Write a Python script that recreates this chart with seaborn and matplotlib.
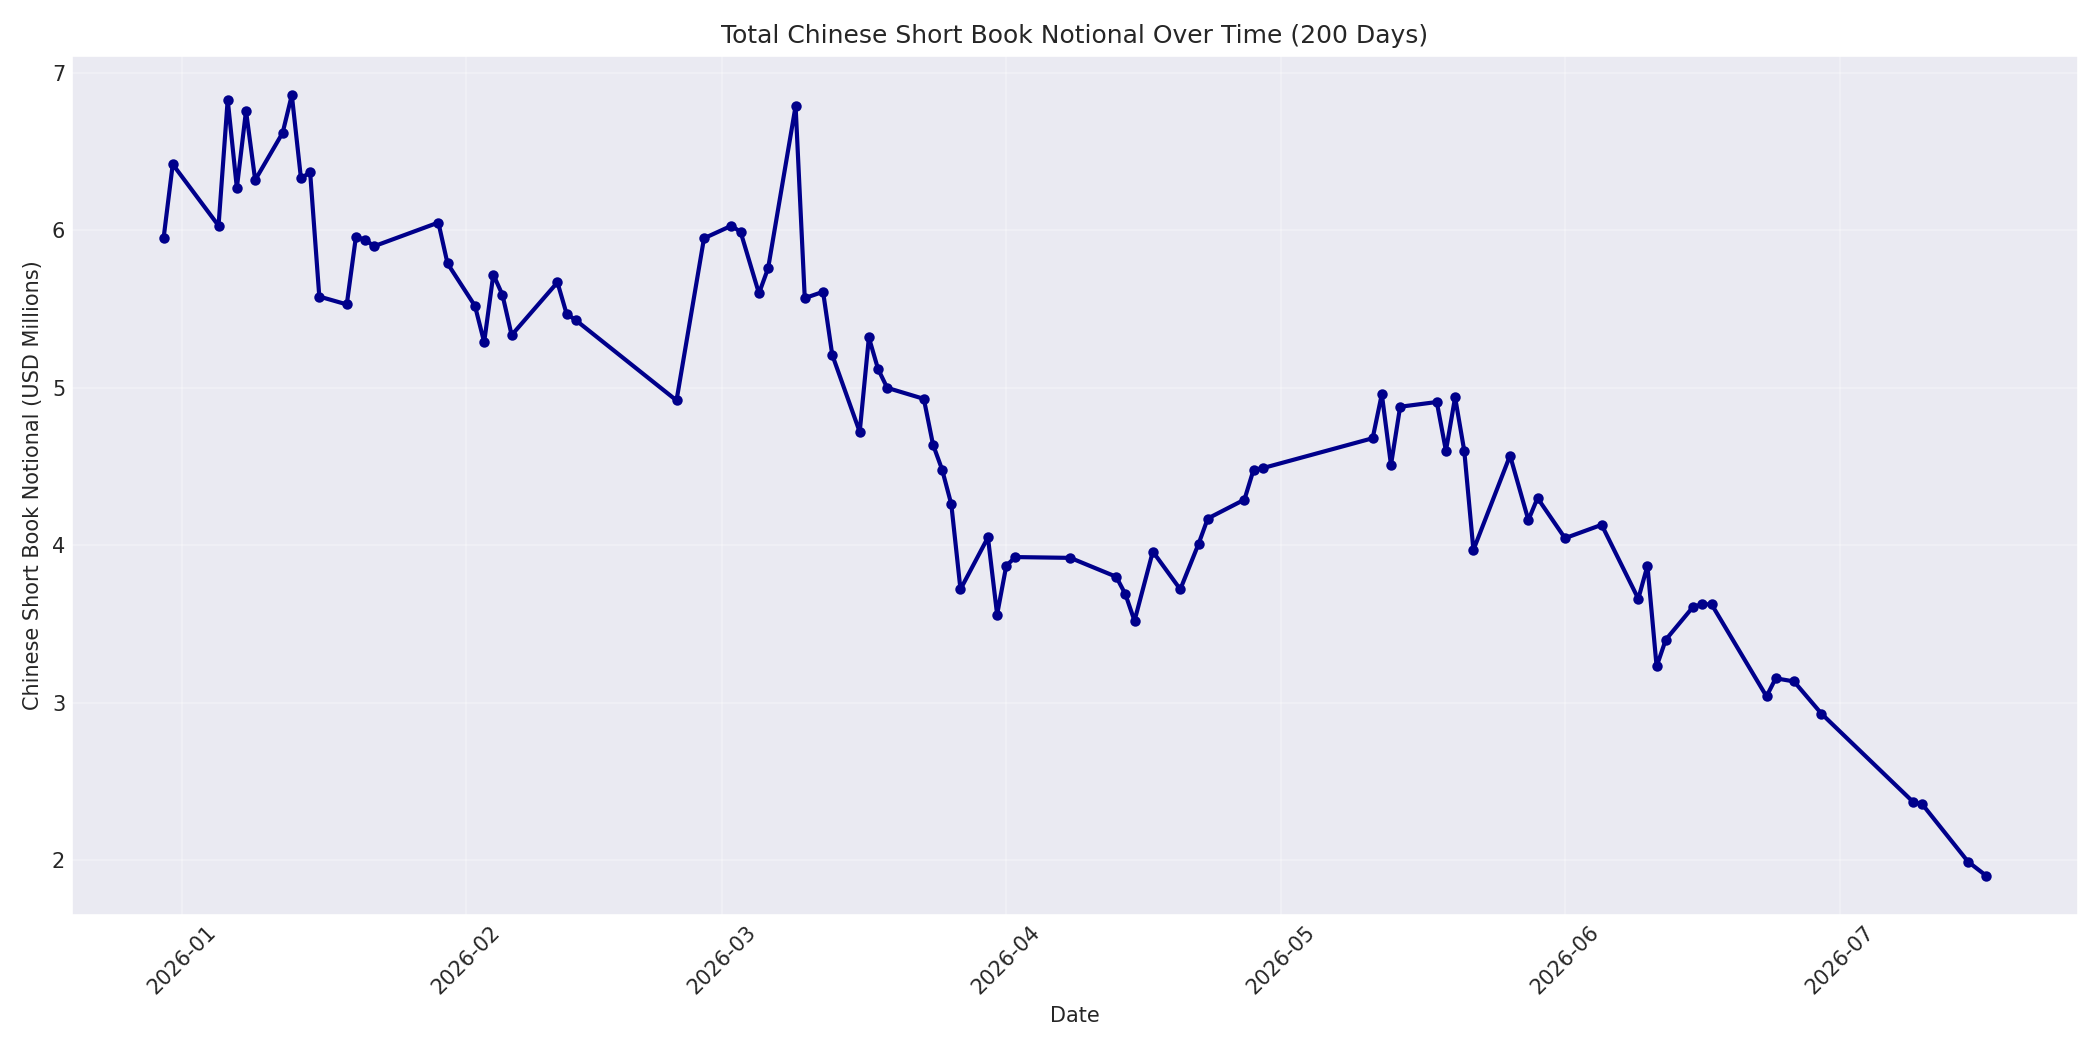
import pandas as pd
import seaborn as sns
from matplotlib import pyplot as plt

# Daily snapshots of the short book
dates = [
    "2025-12-30", "2025-12-31", "2026-01-05", "2026-01-06", "2026-01-07",
    "2026-01-08", "2026-01-09", "2026-01-12", "2026-01-13", "2026-01-14",
    "2026-01-15", "2026-01-16", "2026-01-19", "2026-01-20", "2026-01-21",
    "2026-01-22", "2026-01-29", "2026-01-30", "2026-02-02", "2026-02-03",
    "2026-02-04", "2026-02-05", "2026-02-06", "2026-02-11", "2026-02-12",
    "2026-02-13", "2026-02-24", "2026-02-27", "2026-03-02", "2026-03-03",
    "2026-03-05", "2026-03-06", "2026-03-09", "2026-03-10", "2026-03-12",
    "2026-03-13", "2026-03-16", "2026-03-17", "2026-03-18", "2026-03-19",
    "2026-03-23", "2026-03-24", "2026-03-25", "2026-03-26", "2026-03-27",
    "2026-03-30", "2026-03-31", "2026-04-01", "2026-04-02", "2026-04-08",
    "2026-04-13", "2026-04-14", "2026-04-15", "2026-04-17", "2026-04-20",
    "2026-04-22", "2026-04-23", "2026-04-27", "2026-04-28", "2026-04-29",
    "2026-05-11", "2026-05-12", "2026-05-13", "2026-05-14", "2026-05-18",
    "2026-05-19", "2026-05-20", "2026-05-21", "2026-05-22", "2026-05-26",
    "2026-05-28", "2026-05-29", "2026-06-01", "2026-06-05", "2026-06-09",
    "2026-06-10", "2026-06-11", "2026-06-12", "2026-06-15", "2026-06-16",
    "2026-06-17", "2026-06-23", "2026-06-24", "2026-06-26", "2026-06-29",
    "2026-07-09", "2026-07-10", "2026-07-15", "2026-07-17",
]
notional_musd = [
    5.95, 6.42, 6.03, 6.83, 6.27,
    6.76, 6.32, 6.62, 6.86, 6.33,
    6.37, 5.58, 5.53, 5.96, 5.94,
    5.90, 6.05, 5.79, 5.52, 5.29,
    5.72, 5.59, 5.335, 5.67, 5.47,
    5.43, 4.92, 5.95, 6.03, 5.99,
    5.60, 5.76, 6.79, 5.57, 5.61,
    5.21, 4.72, 5.32, 5.12, 5.00,
    4.93, 4.64, 4.48, 4.26, 3.72,
    4.05, 3.56, 3.87, 3.925, 3.92,
    3.80, 3.69, 3.52, 3.96, 3.72,
    4.01, 4.17, 4.29, 4.48, 4.49,
    4.68, 4.96, 4.51, 4.88, 4.91,
    4.60, 4.94, 4.60, 3.97, 4.57,
    4.16, 4.30, 4.045, 4.13, 3.66,
    3.87, 3.23, 3.40, 3.61, 3.625,
    3.625, 3.04, 3.155, 3.135, 2.93,
    2.37, 2.355, 1.99, 1.90,
]

df = pd.DataFrame({"date": pd.to_datetime(dates), "notional": notional_musd})

# darkgrid look, matplotlib default font sizes, zero-length ticks
sns.set_style("darkgrid")
plt.rcParams.update({"xtick.major.size": 0, "ytick.major.size": 0,
                     "xtick.minor.size": 0, "ytick.minor.size": 0})
fig, ax = plt.subplots(figsize=(14, 7))

sns.lineplot(data=df, x="date", y="notional", ax=ax, color="darkblue",
             marker="o", linewidth=2, markersize=4,
             markeredgecolor="darkblue", markeredgewidth=1)

ax.set_title("Total Chinese Short Book Notional Over Time (200 Days)")
ax.set_xlabel("Date")
ax.set_ylabel("Chinese Short Book Notional (USD Millions)")
ax.grid(True, alpha=0.3)
plt.xticks(rotation=45)

plt.tight_layout()
fig.savefig("out.png", dpi=150)
plt.close(fig)
